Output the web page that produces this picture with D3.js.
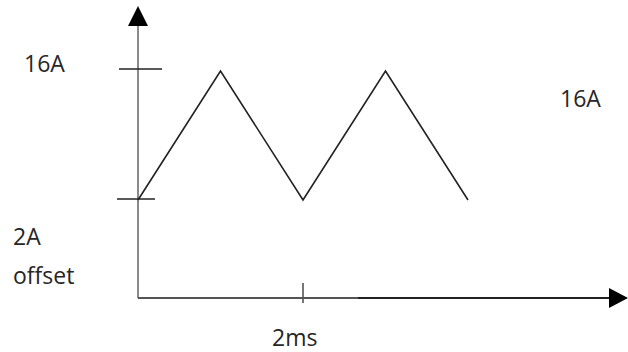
<!DOCTYPE html>
<html>
  <head>
    <title>Triangle current</title>
    <script src="https://cdn.jsdelivr.net/npm/d3@7"></script>
    <style>
      body { margin: 0; background: #fff; }
      text { font-family: "Open Sans", sans-serif; font-size: 23px; fill: #262626; }
    </style>
  </head>
  <body>
    <svg id="container" width="628" height="352"></svg>
    <script>
      // waveform: time in ms, current in A
      const times = [0, 1, 2, 3, 4];
      const amps = [2, 16, 2, 16, 2];
      const levelTicks = [2, 16];
      const timeTicks = [2];

      const svg = d3.select("#container");

      const originX = 138, originY = 298;

      const x = d3.scaleLinear().domain([0, 2]).range([originX, 303]);
      // sketch is not to scale: the 2A offset sits well above the time axis
      const y = d3.scaleLinear().domain([2, 16]).range([200, 71]);

      // y axis (grey) with arrow
      svg.append("line")
        .attr("x1", originX).attr("x2", originX)
        .attr("y1", originY).attr("y2", 24)
        .attr("stroke", "#8a8a8a").attr("stroke-width", 2);
      svg.append("path")
        .attr("d", `M${originX},6 L${originX - 10},26 L${originX + 10},26 Z`)
        .attr("fill", "#000");

      // x axis with arrow
      svg.append("line")
        .attr("x1", originX).attr("x2", 360)
        .attr("y1", originY).attr("y2", originY)
        .attr("stroke", "#555").attr("stroke-width", 2);
      svg.append("line")
        .attr("x1", 358).attr("x2", 612)
        .attr("y1", originY).attr("y2", originY)
        .attr("stroke", "#222").attr("stroke-width", 2);
      svg.append("path")
        .attr("d", `M628,${originY} L609,${originY - 10} L609,${originY + 10} Z`)
        .attr("fill", "#000");

      // level ticks
      svg.selectAll(".ytick")
        .data(levelTicks)
        .join("line")
        .attr("class", "ytick")
        .attr("x1", d => d === 16 ? 119 : 117)
        .attr("x2", d => d === 16 ? 162 : 155)
        .attr("y1", d => y(d) - (d === 16 ? 2 : 1))
        .attr("y2", d => y(d) - (d === 16 ? 2 : 1))
        .attr("stroke", "#222").attr("stroke-width", 1.6);

      // time ticks
      svg.selectAll(".xtick")
        .data(timeTicks)
        .join("line")
        .attr("class", "xtick")
        .attr("x1", d => x(d)).attr("x2", d => x(d))
        .attr("y1", originY - 15).attr("y2", originY + 5)
        .attr("stroke", "#555").attr("stroke-width", 1.6);

      // triangle wave
      const line = d3.line()
        .x(d => x(d[0]))
        .y(d => y(d[1]));
      svg.append("path")
        .datum(d3.zip(times, amps))
        .attr("d", line)
        .attr("fill", "none")
        .attr("stroke", "#222")
        .attr("stroke-width", 1.6);

      // labels
      svg.append("text").attr("x", 24).attr("y", 72).text("16A");
      svg.append("text").attr("x", 13).attr("y", 245).text("2A");
      svg.append("text").attr("x", 13).attr("y", 284).text("offset");
      svg.append("text").attr("x", 272).attr("y", 346).text("2ms");
      svg.append("text").attr("x", 560).attr("y", 107).text("16A");
    </script>
  </body>
</html>
